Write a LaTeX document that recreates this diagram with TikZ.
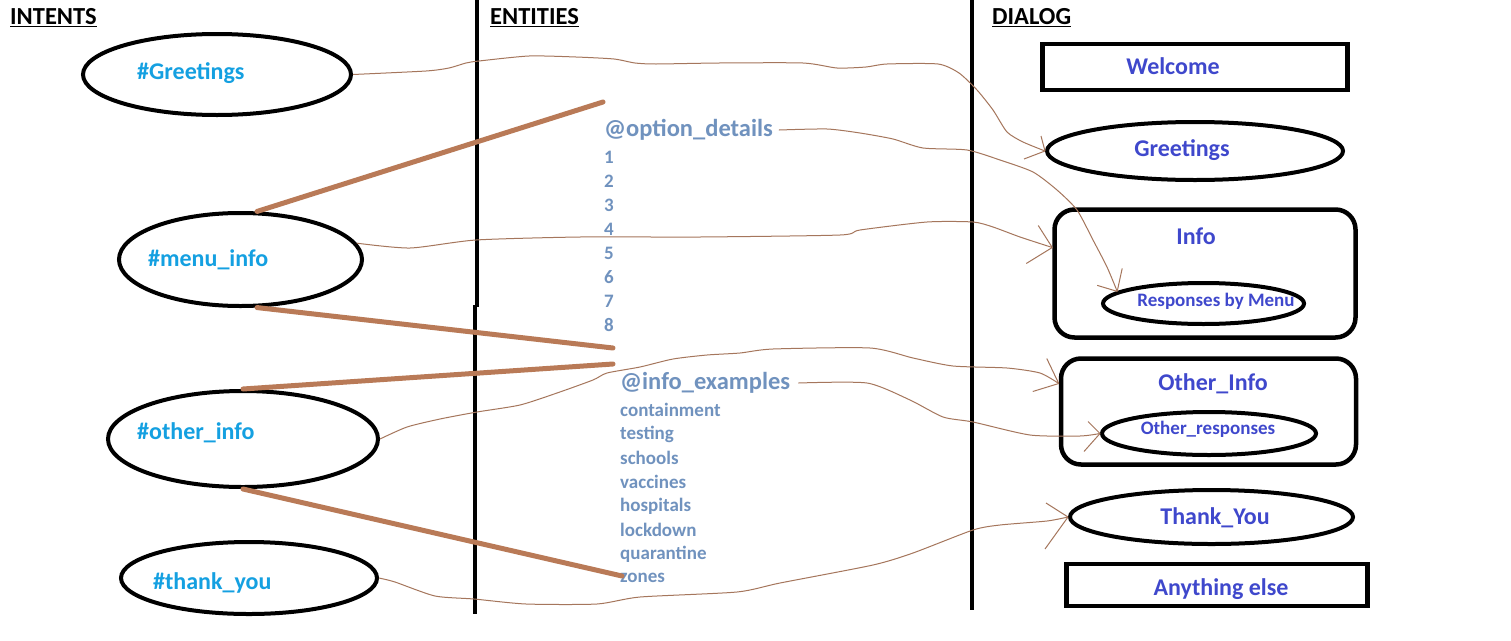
\documentclass[tikz,border=0pt]{standalone}
\usepackage{fontspec}
\setmainfont{Carlito}
\usetikzlibrary{shapes.geometric}
\definecolor{ibl}{RGB}{20,160,225}
\definecolor{ind}{RGB}{63,72,204}
\definecolor{bgr}{RGB}{112,146,190}
\definecolor{brn}{RGB}{185,122,87}
\definecolor{tbrn}{RGB}{165,118,92}
\begin{document}
\begin{tikzpicture}[x=1pt,y=-1pt,
  oval/.style={draw=black,line width=4pt,ellipse,inner sep=0pt},
  box/.style={draw=black,line width=4.5pt,inner sep=0pt},
  rbox/.style={box,rounded corners=20pt},
  itxt/.style={font=\fontsize{24}{28}\selectfont\bfseries,text=ibl,anchor=west,inner sep=0pt},
  dtxt/.style={font=\fontsize{24}{28}\selectfont\bfseries,text=ind,inner sep=0pt},
  stxt/.style={font=\fontsize{19}{22}\selectfont\bfseries,text=ind,inner sep=0pt},
  ehead/.style={font=\fontsize{24.5}{28}\selectfont\bfseries,text=bgr,anchor=west,inner sep=0pt},
  eitem/.style={font=\fontsize{19}{22}\selectfont\bfseries,text=bgr,anchor=west,inner sep=0pt},
  hdr/.style={font=\fontsize{24.5}{28}\selectfont\bfseries,anchor=west,inner sep=0pt},
  thicklink/.style={draw=brn,line width=5pt},
  thinlink/.style={draw=tbrn,line width=1pt},
  tipl/.style={draw=tbrn,line width=1pt}
]
\useasboundingbox[fill=white] (0,0) rectangle (1511,640);

% dividers
\draw[line width=4pt] (477,0) -- (477,307);
\draw[line width=4pt] (475,305) -- (475,614);
\draw[line width=4pt] (972,0) -- (972,610);

% headers
\node[hdr] (hint) at (10,18) {\underline{INTENTS}};
\node[hdr] (hent) at (490,18) {\underline{ENTITIES}};
\node[hdr] (hdia) at (992,18) {\underline{DIALOG}};

% intents
\node[oval,minimum width=268pt,minimum height=81pt] (ig) at (217,74.5) {};
\node[itxt] (tig) at (137,73) {\#Greetings};
\node[oval,minimum width=243pt,minimum height=93pt] (mi) at (240.5,259.5) {};
\node[itxt] (tmi) at (148,260) {\#menu\_info};
\node[oval,minimum width=270pt,minimum height=96pt] (oi) at (243,439) {};
\node[itxt] (toi) at (137,433) {\#other\_info};
\node[oval,minimum width=256pt,minimum height=72pt] (ty) at (249,578) {};
\node[itxt] (tty) at (153,583) {\#thank\_you};

% entities
\node[ehead] (od) at (604,130) {@option\_details};
\foreach \n [count=\i from 0] in {1,...,8}
  \node[eitem] (odn\n) at (604,157+24*\i) {\n};
\node[ehead] (ie) at (620,383) {@info\_examples};
\foreach \w [count=\i from 0] in {containment,testing,schools,vaccines,hospitals,lockdown,quarantine,zones}
  \node[eitem] (ie\i) at (620,410+24*\i) {\w};

% dialog
\node[box,minimum width=305pt,minimum height=46pt] (dwel) at (1195,67) {};
\node[dtxt] (twel) at (1173,66) {Welcome};
\node[oval,minimum width=296pt,minimum height=58pt] (dge) at (1195,151) {};
\node[dtxt] (tdge) at (1182,150) {Greetings};
\node[rbox,minimum width=301pt,minimum height=128pt] (dinfo) at (1205,273.5) {};
\node[dtxt] (tdinfo) at (1196,236) {Info};
\node[oval,minimum width=201pt,minimum height=41pt] (drm) at (1203.5,303.5) {};
\node[stxt] (tdrm) at (1216,301) {Responses by Menu};
\node[rbox,minimum width=295pt,minimum height=106pt] (doi) at (1208.5,411.5) {};
\node[dtxt] (tdoi) at (1213,384) {Other\_Info};
\node[oval,minimum width=214pt,minimum height=43pt] (dor) at (1209,433.5) {};
\node[stxt] (tdor) at (1208,429) {Other\_responses};
\node[oval,minimum width=283pt,minimum height=54pt] (dty) at (1211.5,517) {};
\node[dtxt] (tdty) at (1215,518) {Thank\_You};
\node[box,minimum width=301pt,minimum height=42pt] (dae) at (1217,585) {};
\node[dtxt] (tdae) at (1221,589) {Anything else};

% thick links
\coordinate (odtop) at (603,102);
\coordinate (odbot) at (613,348);
\coordinate (ietop) at (613,364);
\coordinate (iebot) at (622,576);
\draw[thicklink,line cap=round] (mi.71) -- (odtop);
\draw[thicklink,line cap=round] (mi.-71) -- (odbot);
\draw[thicklink,line cap=round] (oi.north) -- (ietop);
\draw[thicklink,line cap=round] (oi.south) -- (iebot);

% thin links
\draw[thinlink] plot[smooth,tension=0.4] coordinates {(ig.east) (426,71) (449,68) (466,63) (479,61) (529,56) (576,57) (614,59) (635,63) (656,64) (719,63) (803,63) (837,68) (866,67) (887,64) (938,64) (959,73) (977,90) (993,110) (1007,132) (1023,142) (dge.west)};
\draw[tipl] (dge.west) -- ++(-4,-15);
\draw[tipl] (dge.west) -- ++(-21,8);

\draw[thinlink] plot[smooth,tension=0.4] coordinates {([xshift=6pt]od.east) (827,129) (860,133) (893,139) (923,148) (967,150) (1000,160) (1033,172) (1057,190) (1077,210) (1093,240) (1107,267) (drm.172)};
\draw[tipl] (drm.172) -- ++(5,-23);
\draw[tipl] (drm.172) -- ++(-20,-6);

\draw[thinlink] plot[smooth,tension=0.4] coordinates {(mi.8) (410,248) (476,240) (580,237) (700,237) (840,235) (860,230) (927,222) (973,222) (993,227) (1020,237) ([yshift=26pt]dinfo.west)};
\draw[tipl] ([yshift=26pt]dinfo.west) -- ++(-14,-22);
\draw[tipl] ([yshift=26pt]dinfo.west) -- ++(-26,16);

\draw[thinlink] plot[smooth,tension=0.4] coordinates {(oi.east) (407,427) (440,419) (477,412) (520,405) (557,393) (593,380) (607,373) (640,367) (673,359) (707,355) (740,353) (773,349) (870,348) (913,358) (953,366) (1007,368) (1040,373) ([yshift=28pt]doi.west)};
\draw[tipl] ([yshift=28pt]doi.west) -- ++(-12,-25);
\draw[tipl] ([yshift=28pt]doi.west) -- ++(-26,8);

\draw[thinlink] plot[smooth,tension=0.4] coordinates {([xshift=8pt]ie.east) (867,383) (910,400) (943,417) (973,422) (1030,435) (1080,436) (dor.west)};
\draw[tipl] (dor.west) -- ++(-12,-12);
\draw[tipl] (dor.west) -- ++(-16,18);

\draw[thinlink] plot[smooth,tension=0.4] coordinates {(ty.east) (395,582) (435,596) (474,599) (526,604) (597,604) (640,597) (737,592) (780,583) (873,565) (913,553) (973,530) (1000,525) (1047,521) (dty.west)};
\draw[tipl] (dty.west) -- ++(-22,-14);
\draw[tipl] (dty.west) -- ++(-23,32);
\end{tikzpicture}
\end{document}
